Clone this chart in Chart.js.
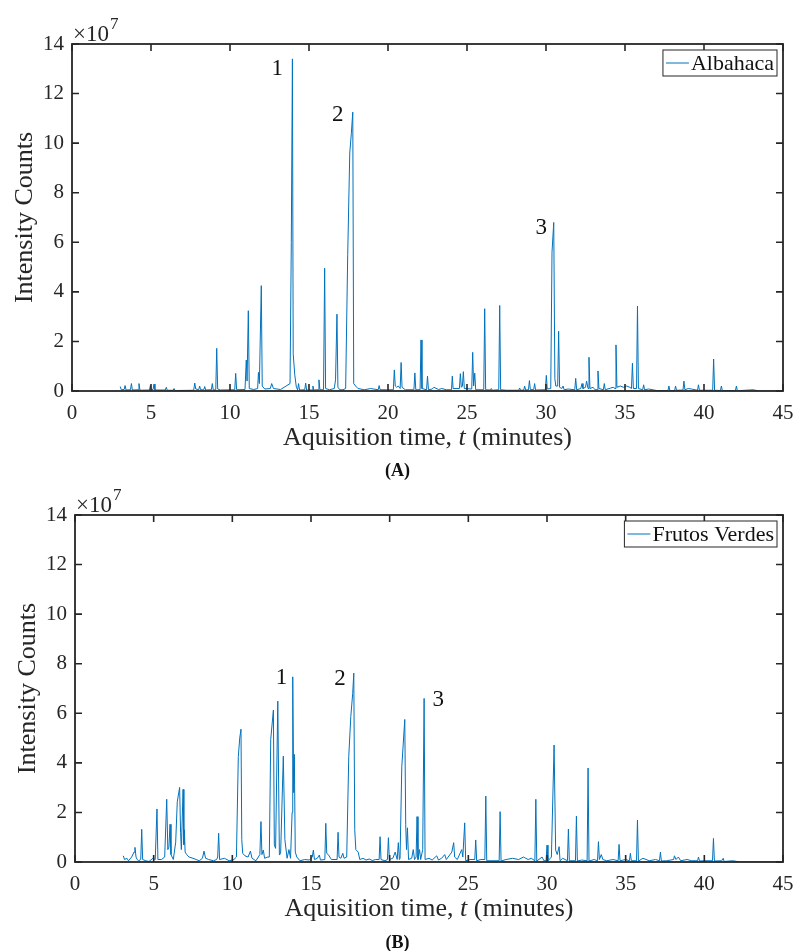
<!DOCTYPE html>
<html>
<head>
<meta charset="utf-8">
<title>Chromatograms</title>
<script src="https://cdn.jsdelivr.net/npm/chart.js@4.4.1/dist/chart.umd.min.js"></script>
<style>
  html, body { margin: 0; padding: 0; background: #fff; }
  canvas { display: block; }
</style>
</head>
<body>
<canvas id="chartA" width="795" height="480"></canvas>
<canvas id="chartB" width="795" height="471"></canvas>
<script>
// values in units of 10^7 counts, time in minutes
const SCALE = 1e7;
const xTicks = [0, 5, 10, 15, 20, 25, 30, 35, 40, 45];
const yTicks = [0, 2, 4, 6, 8, 10, 12, 14];

// Albahaca chromatogram [t, intensity]
const albahaca = [
  [3.05,0.18],[3.12,0.05],[3.3,0.06],[3.36,0.22],[3.42,0.04],[3.7,0.05],[3.76,0.3],[3.82,0.04],
  [4.18,0.05],[4.24,0.3],[4.3,0.03],[4.9,0.04],[4.96,0.22],[5.02,0.05],[5.13,0.06],[5.19,0.28],
  [5.25,0.04],[5.9,0.04],[5.97,0.15],[6.03,0.03],[6.4,0.03],[6.46,0.1],[6.52,0.02],[7.7,0.03],
  [7.77,0.32],[7.83,0.08],[8.02,0.05],[8.08,0.2],[8.14,0.05],[8.34,0.05],[8.4,0.18],[8.46,0.04],
  [8.82,0.05],[8.88,0.3],[8.94,0.04],[9.1,0.05],[9.16,1.72],[9.22,0.08],[9.4,0.04],[10.3,0.05],
  [10.36,0.71],[10.42,0.05],[10.95,0.06],[11.03,1.25],[11.08,0.4],[11.16,3.24],[11.22,0.1],
  [11.5,0.06],[11.75,0.1],[11.8,0.75],[11.86,0.3],[11.98,4.25],[12.04,0.2],[12.2,0.08],
  [12.55,0.1],[12.64,0.3],[12.75,0.1],[13.2,0.06],[13.8,0.3],[13.88,6.0],[13.95,13.4],
  [14.0,1.5],[14.1,0.65],[14.2,0.15],[14.28,0.05],[14.34,0.3],[14.4,0.04],[14.73,0.05],
  [14.79,0.32],[14.85,0.04],[15.2,0.04],[15.25,0.2],[15.3,0.04],[15.57,0.05],[15.63,0.45],
  [15.69,0.05],[15.92,0.05],[15.99,4.95],[16.05,0.1],[16.3,0.05],[16.6,0.1],[16.68,0.45],
  [16.77,3.1],[16.83,0.15],[16.95,0.05],[17.15,0.05],[17.32,0.1],[17.45,5.5],[17.58,9.6],
  [17.68,10.4],[17.77,11.25],[17.83,0.3],[17.95,0.2],[18.1,0.1],[18.5,0.05],[18.9,0.1],
  [19.38,0.05],[19.44,0.22],[19.5,0.05],[19.9,0.05],[20.34,0.05],[20.4,0.85],[20.46,0.2],
  [20.55,0.15],[20.65,0.2],[20.77,0.1],[20.83,1.15],[20.89,0.15],[21.1,0.05],[21.64,0.05],
  [21.7,0.73],[21.76,0.05],[22.03,0.05],[22.09,2.06],[22.15,0.1],[22.44,0.05],[22.5,0.6],
  [22.56,0.05],[22.8,0.08],[22.9,0.15],[23.2,0.06],[23.4,0.1],[23.7,0.05],[24.02,0.05],
  [24.07,0.6],[24.12,0.1],[24.52,0.1],[24.58,0.7],[24.64,0.15],[24.71,0.2],[24.77,0.78],
  [24.83,0.1],[25.3,0.08],[25.36,1.56],[25.42,0.2],[25.49,0.72],[25.55,0.05],[26.06,0.05],
  [26.12,3.32],[26.18,0.05],[26.48,0.04],[26.54,0.1],[26.6,0.03],[27.01,0.05],[27.07,3.45],
  [27.13,0.05],[27.5,0.03],[28.27,0.03],[28.33,0.12],[28.39,0.03],[28.59,0.04],[28.65,0.2],
  [28.71,0.04],[28.89,0.05],[28.95,0.42],[29.01,0.06],[29.22,0.05],[29.28,0.3],[29.34,0.04],
  [29.96,0.05],[30.02,0.63],[30.08,0.08],[30.3,0.1],[30.38,5.6],[30.49,6.8],[30.56,0.5],
  [30.62,0.2],[30.74,0.2],[30.8,2.41],[30.86,0.15],[31.0,0.1],[31.08,0.2],[31.15,0.05],
  [31.4,0.08],[31.82,0.05],[31.88,0.51],[31.94,0.05],[32.2,0.1],[32.28,0.3],[32.34,0.1],
  [32.5,0.15],[32.57,0.4],[32.66,0.1],[32.72,1.36],[32.78,0.1],[32.98,0.15],[33.1,0.05],
  [33.23,0.05],[33.29,0.81],[33.35,0.1],[33.63,0.05],[33.69,0.3],[33.75,0.05],[34.1,0.12],
  [34.25,0.15],[34.37,0.1],[34.43,1.86],[34.49,0.15],[34.7,0.2],[34.9,0.15],[35.1,0.2],
  [35.3,0.15],[35.41,0.1],[35.47,1.12],[35.53,0.1],[35.73,0.1],[35.79,3.43],[35.85,0.1],
  [36.12,0.05],[36.18,0.25],[36.24,0.05],[36.5,0.08],[37.0,0.02],[37.72,0.02],[37.78,0.2],
  [37.84,0.02],[38.14,0.02],[38.2,0.2],[38.26,0.03],[38.67,0.04],[38.73,0.4],[38.79,0.05],
  [39.0,0.1],[39.2,0.08],[39.59,0.03],[39.65,0.25],[39.71,0.03],[40.55,0.03],[40.61,1.29],
  [40.67,0.03],[41.04,0.02],[41.1,0.2],[41.16,0.02],[41.99,0.02],[42.05,0.2],[42.11,0.01],
  [43.1,0.05],[43.5,0],[45,0]
];

// Frutos Verdes chromatogram [t, intensity]
const frutosVerdes = [
  [3.07,0.25],[3.15,0.1],[3.3,0.15],[3.4,0.05],[3.6,0.2],[3.75,0.4],[3.81,0.59],[3.88,0.2],
  [3.95,0.1],[4.05,0.05],[4.18,0.1],[4.24,1.32],[4.3,0.1],[4.5,0.05],[4.7,0.02],[4.95,0.15],
  [5.1,0.1],[5.21,2.14],[5.27,0.1],[5.5,0.1],[5.7,0.2],[5.83,2.53],[5.9,0.5],[5.97,0.6],
  [6.04,1.52],[6.1,0.3],[6.25,0.1],[6.4,0.8],[6.5,2.43],[6.65,3.01],[6.71,1.2],[6.76,0.5],
  [6.87,2.93],[6.92,0.7],[6.95,1.3],[7.0,0.4],[7.1,0.3],[7.25,0.2],[7.5,0.15],[7.7,0.1],
  [7.9,0.05],[8.1,0.15],[8.2,0.44],[8.3,0.15],[8.5,0.1],[8.8,0.05],[9.0,0.1],[9.07,0.2],
  [9.13,1.16],[9.19,0.1],[9.5,0.15],[9.8,0.05],[10.1,0.1],[10.26,0.2],[10.38,4.25],[10.47,5.0],
  [10.55,5.36],[10.6,0.9],[10.66,0.35],[10.8,0.25],[11.0,0.2],[11.15,0.44],[11.25,0.15],
  [11.5,0.05],[11.75,0.3],[11.82,1.63],[11.88,0.3],[11.97,0.48],[12.05,0.15],[12.25,0.2],
  [12.35,0.2],[12.44,4.95],[12.61,6.13],[12.67,0.69],[12.75,0.55],[12.89,6.49],[12.99,0.28],
  [13.07,0.35],[13.24,4.27],[13.34,0.9],[13.48,0.15],[13.6,0.5],[13.7,0.15],[13.8,2.0],
  [13.84,7.47],[13.9,2.8],[13.94,4.34],[14.0,0.4],[14.1,0.2],[14.3,0.05],[14.6,0.1],[14.9,0.08],
  [15.08,0.2],[15.15,0.48],[15.22,0.1],[15.4,0.15],[15.53,0.28],[15.6,0.08],[15.88,0.1],
  [15.94,1.56],[16.0,0.35],[16.1,0.3],[16.3,0.1],[16.66,0.1],[16.72,1.2],[16.78,0.2],
  [16.9,0.15],[17.02,0.35],[17.1,0.15],[17.27,0.2],[17.4,4.25],[17.53,5.87],[17.65,6.8],
  [17.72,7.62],[17.78,1.3],[17.85,0.5],[18.0,0.4],[18.1,0.1],[18.3,0.15],[18.5,0.08],
  [18.7,0.12],[18.9,0.06],[19.1,0.1],[19.33,0.1],[19.39,1.02],[19.45,0.1],[19.7,0.05],
  [19.86,0.1],[19.92,0.98],[19.98,0.1],[20.2,0.15],[20.35,0.4],[20.48,0.1],[20.55,0.78],
  [20.62,0.1],[20.66,0.15],[20.77,3.84],[20.96,5.75],[21.02,1.5],[21.07,0.5],[21.13,1.38],
  [21.2,0.1],[21.4,0.15],[21.5,0.5],[21.58,0.1],[21.68,0.2],[21.74,1.83],[21.8,0.1],
  [21.9,0.5],[21.97,0.1],[22.1,0.5],[22.19,6.6],[22.25,0.1],[22.5,0.15],[22.7,0.08],
  [22.99,0.25],[23.1,0.08],[23.3,0.15],[23.5,0.3],[23.6,0.1],[23.95,0.4],[24.07,0.78],
  [24.13,0.2],[24.3,0.1],[24.58,0.5],[24.65,0.2],[24.77,1.58],[24.83,0.05],[25.1,0.1],
  [25.41,0.1],[25.47,0.89],[25.53,0.05],[25.8,0.1],[26.05,0.1],[26.11,2.66],[26.17,0.05],
  [26.5,0.05],[26.96,0.05],[27.02,2.03],[27.08,0.04],[27.4,0.1],[27.8,0.15],[28.2,0.1],
  [28.5,0.2],[28.8,0.1],[29.0,0.15],[29.23,0.05],[29.29,2.53],[29.35,0.04],[29.69,0.2],
  [29.8,0.05],[29.94,0.05],[30.0,0.68],[30.06,0.05],[30.28,0.2],[30.45,4.72],[30.55,0.48],
  [30.65,0.3],[30.77,0.62],[30.83,0.05],[31.0,0.15],[31.3,0.05],[31.36,1.33],[31.42,0.05],
  [31.81,0.05],[31.87,1.85],[31.93,0.04],[32.2,0.08],[32.55,0.05],[32.61,3.79],[32.67,0.04],
  [33.0,0.1],[33.21,0.05],[33.27,0.82],[33.33,0.1],[33.45,0.3],[33.55,0.1],[33.8,0.05],
  [34.2,0.1],[34.52,0.05],[34.58,0.71],[34.64,0.05],[35.0,0.1],[35.24,0.05],[35.3,0.35],
  [35.36,0.05],[35.69,0.05],[35.75,1.69],[35.81,0.04],[36.1,0.15],[36.5,0.05],[36.9,0.1],
  [37.15,0.05],[37.21,0.4],[37.27,0.04],[37.6,0.05],[38.05,0.1],[38.1,0.25],[38.2,0.1],
  [38.35,0.2],[38.5,0.05],[38.9,0.1],[39.2,0.05],[39.57,0.05],[39.63,0.2],[39.69,0.04],
  [40.0,0.05],[40.52,0.05],[40.58,0.95],[40.64,0.04],[41.1,0.05],[41.2,0.15],[41.26,0.02],
  [41.8,0.05],[42.3,0],[45,0]
];

// peak numbers and where they are written [t, intensity]
const peakNames = ['1', '2', '3'];
const peakLabelsA = [[12.99, 12.98], [16.82, 11.14], [29.7, 6.58]];
const peakLabelsB = [[13.13, 7.42], [16.85, 7.4], [23.08, 6.53]];

const SERIF = "'Liberation Serif', 'Times New Roman', serif";
const INK = '#262626';
const LINE = '#0072BD';

const frame = {
  id: 'frame',
  afterDatasetsDraw(chart, args, opts) {
    const { ctx, chartArea: a, scales } = chart;
    const xs = scales.x, ys = scales.y;
    ctx.save();

    // peak numbers
    ctx.fillStyle = '#111';
    ctx.font = '23px ' + SERIF;
    ctx.textAlign = 'center';
    ctx.textBaseline = 'middle';
    opts.peaks.forEach((p, i) => {
      ctx.fillText(peakNames[i], xs.getPixelForValue(p[0]), ys.getPixelForValue(p[1] * SCALE));
    });

    // box and inward ticks
    ctx.strokeStyle = INK;
    ctx.lineWidth = 1.8;
    ctx.strokeRect(a.left, a.top, a.width, a.height);
    ctx.lineWidth = 1.6;
    ctx.beginPath();
    xTicks.forEach(v => {
      const px = xs.getPixelForValue(v);
      ctx.moveTo(px, a.bottom); ctx.lineTo(px, a.bottom - 7);
      ctx.moveTo(px, a.top); ctx.lineTo(px, a.top + 7);
    });
    yTicks.forEach(v => {
      const py = ys.getPixelForValue(v * SCALE);
      ctx.moveTo(a.left, py); ctx.lineTo(a.left + 7, py);
      ctx.moveTo(a.right, py); ctx.lineTo(a.right - 7, py);
    });
    ctx.stroke();

    // legend
    ctx.font = '22px ' + SERIF;
    const tw = ctx.measureText(opts.name).width;
    const bw = tw + 31, bh = 26;
    const bx = a.right - 6 - bw, by = a.top + 6;
    ctx.fillStyle = '#fff';
    ctx.fillRect(bx, by, bw, bh);
    ctx.lineWidth = 1;
    ctx.strokeStyle = INK;
    ctx.strokeRect(bx, by, bw, bh);
    ctx.strokeStyle = LINE;
    ctx.beginPath();
    ctx.moveTo(bx + 3, by + bh / 2); ctx.lineTo(bx + 26, by + bh / 2);
    ctx.stroke();
    ctx.fillStyle = '#111';
    ctx.textAlign = 'left';
    ctx.textBaseline = 'middle';
    ctx.fillText(opts.name, bx + 28, by + bh / 2 + 1);

    // exponent
    ctx.fillStyle = INK;
    ctx.textBaseline = 'alphabetic';
    ctx.font = '23px ' + SERIF;
    ctx.fillText('\u00d710', a.left + 1, a.top - 3);
    const ew = ctx.measureText('\u00d710').width;
    ctx.font = '17px ' + SERIF;
    ctx.fillText('7', a.left + 2 + ew, a.top - 15);

    // x axis title
    ctx.font = '26px ' + SERIF;
    const p1 = 'Aquisition time, ', p3 = ' (minutes)';
    const w1 = ctx.measureText(p1).width, w3 = ctx.measureText(p3).width;
    ctx.font = 'italic 26px ' + SERIF;
    const w2 = ctx.measureText('t').width;
    let x0 = (a.left + a.right) / 2 - (w1 + w2 + w3) / 2;
    const yb = a.bottom + 54;
    ctx.font = '26px ' + SERIF;
    ctx.fillText(p1, x0, yb);
    ctx.font = 'italic 26px ' + SERIF;
    ctx.fillText('t', x0 + w1, yb);
    ctx.font = '26px ' + SERIF;
    ctx.fillText(p3, x0 + w1 + w2, yb);

    // y axis title
    ctx.save();
    ctx.translate(a.left - 40, (a.top + a.bottom) / 2);
    ctx.rotate(-Math.PI / 2);
    ctx.textAlign = 'center';
    ctx.fillText('Intensity Counts', 0, 0);
    ctx.restore();

    // panel caption
    ctx.textAlign = 'center';
    ctx.font = 'bold 18px ' + SERIF;
    ctx.fillStyle = '#111';
    ctx.fillText(opts.caption, 397.5, opts.captionY);

    ctx.restore();
  }
};

function makeChart(id, name, points, peaks, caption, g) {
  return new Chart(document.getElementById(id), {
    type: 'line',
    data: {
      datasets: [{
        label: name,
        data: points.map(p => ({ x: p[0], y: p[1] * SCALE })),
        borderColor: LINE,
        borderWidth: 1,
        pointRadius: 0,
        tension: 0,
        fill: false
      }]
    },
    options: {
      responsive: false,
      animation: false,
      devicePixelRatio: 1,
      layout: { padding: { top: g.top, right: 12, left: 0, bottom: 0 } },
      scales: {
        x: {
          type: 'linear',
          min: 0, max: 45,
          afterBuildTicks: s => { s.ticks = xTicks.map(v => ({ value: v })); },
          afterFit: s => { s.height = g.xh; s.paddingLeft = 0; s.paddingRight = 0; },
          grid: { display: false, drawTicks: false },
          border: { display: false },
          ticks: { padding: 10, color: INK, font: { family: SERIF, size: 21 }, maxRotation: 0 }
        },
        y: {
          min: 0, max: 14 * SCALE,
          afterBuildTicks: s => { s.ticks = yTicks.map(v => ({ value: v * SCALE })); },
          afterFit: s => { s.width = g.left; s.paddingTop = 0; s.paddingBottom = 0; },
          grid: { display: false, drawTicks: false },
          border: { display: false },
          ticks: { padding: 8, color: INK, font: { family: SERIF, size: 21 },
                   callback: v => String(v / SCALE) }
        }
      },
      plugins: {
        legend: { display: false },
        tooltip: { enabled: false },
        frame: { name: name, peaks: peaks, caption: caption, captionY: g.captionY }
      }
    },
    plugins: [frame]
  });
}

makeChart('chartA', 'Albahaca', albahaca, peakLabelsA, '(A)', { top: 44, left: 72, xh: 89, captionY: 476 });
makeChart('chartB', 'Frutos Verdes', frutosVerdes, peakLabelsB, '(B)', { top: 35, left: 75, xh: 89, captionY: 468 });
</script>
</body>
</html>
